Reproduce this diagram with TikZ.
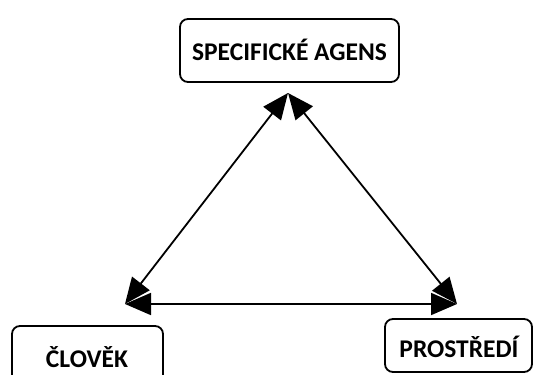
\documentclass[tikz,border=0pt]{standalone}
\usepackage{fontspec}
\setmainfont{Carlito}
\usetikzlibrary{arrows.meta}
\tikzset{
  box/.style={draw=black, line width=1.8pt, rounded corners=8pt, fill=white},
  lbl/.style={font=\bfseries\fontsize{25.5}{28}\selectfont, inner sep=0pt},
  conn/.style={line width=1.8pt, {Triangle[length=26pt,width=22pt]}-{Triangle[length=26pt,width=22pt]}}
}
\begin{document}
\begin{tikzpicture}[x=1pt,y=-1pt]
\useasboundingbox (0,0) rectangle (534,374);
\begin{scope}
\clip (0,0) rectangle (534,374);
\draw[box] (180,19) rectangle (399,82);
\node[lbl] (agens) at (289.5,50) {SPECIFICKÉ AGENS};
\draw[box] (12,326) rectangle (163,390);
\node[lbl] (clovek) at (87,357) {ČLOVĚK};
\draw[box] (385,319) rectangle (532,372);
\node[lbl] (prostredi) at (459,347) {PROSTŘEDÍ};
\end{scope}
\coordinate (A) at (288,93);
\coordinate (B) at (125,304);
\coordinate (C) at (457,304);
\draw[conn] (A) -- (B);
\draw[conn] (A) -- (C);
\draw[conn] (B) -- (C);
\end{tikzpicture}
\end{document}
